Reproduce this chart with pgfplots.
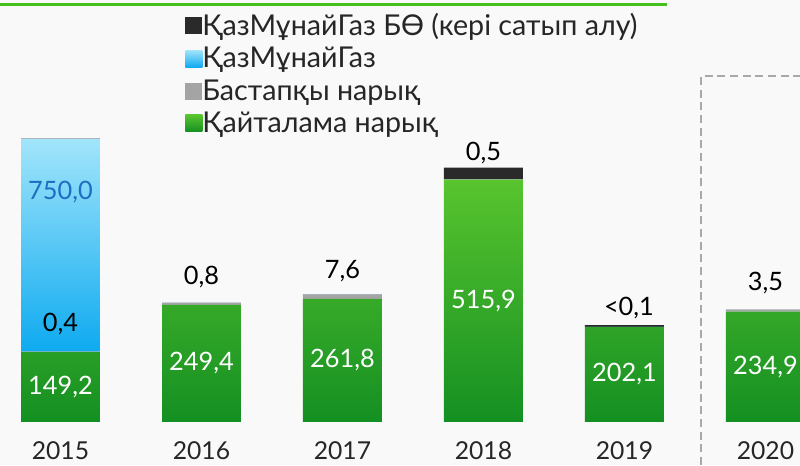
\documentclass[border=0pt]{standalone}
\usepackage{fontspec}
\setmainfont{Lato}
\usepackage{pgfplots}
\usepackage{pgfplotstable}
\pgfplotsset{compat=1.18}
\definecolor{bg}{HTML}{F9F9F9}
\definecolor{gline}{HTML}{45C11B}
\definecolor{gdark}{HTML}{148F22}
\definecolor{gmid}{HTML}{36B417}
\definecolor{glight}{HTML}{58C42E}
\definecolor{btop}{HTML}{A2E5FA}
\definecolor{bbot}{HTML}{0EAAF0}
\definecolor{blab}{HTML}{1A6FC2}
\definecolor{dashgray}{HTML}{A9A9A9}
\definecolor{sgray}{HTML}{A4A4A4}
\definecolor{sblack}{HTML}{2A2A2A}

% Visual bar heights (px/0.47); labels carry the printed values
% (0.1 stands for an empty segment)
\pgfplotstableread{
x y lab
0 149.2 149,2
1 249.4 249,4
2 261.8 261,8
3 515.9 515,9
4 202.1 202,1
5 234.9 234,9
}\tgreen
\pgfplotstableread{
x y lab dy
0 0.4 {} 0
1 4 0,8 27
2 10 7,6 25
3 0.1 {} 0
4 0.1 {} 0
5 4 3,5 28
}\tgray
\pgfplotstableread{
x y lab
0 453 750,0
1 0.1 {}
2 0.1 {}
3 0.1 {}
4 0.1 {}
5 0.1 {}
}\tblue
\pgfplotstableread{
x y lab dx dy
0 0.1 {} 0 0
1 0.1 {} 0 0
2 0.1 {} 0 0
3 25 0,5 0 21
4 4 <0,1 4.5 18
5 0.1 {} 0 0
}\tblack

\begin{document}
\begin{tikzpicture}
\useasboundingbox (0,0) rectangle (600pt,348.75pt);
\fill[bg] (0,0) rectangle (600pt,348.75pt);
\draw[gline, line width=2.25pt] (0,345.4pt) -- (500.25pt,345.4pt);
\begin{axis}[
  at={(0,0)}, anchor=south west,
  scale only axis, width=600pt, height=348.75pt,
  xmin=-0.429, xmax=5.245, ymin=-91.5, ymax=897.9,
  clip=false,
  axis line style={draw=none},
  major tick length=0pt,
  ytick=\empty,
  xtick={0,1,2,3,4,5},
  xticklabels={2015,2016,2017,2018,2019,2020},
  xticklabel style={anchor=center, yshift=10.5pt, font=\fontsize{18.5}{20}\selectfont, text=black!85},
  ybar stacked, bar width=0.56,
  point meta=explicit symbolic,
  nodes near coords={\pgfplotspointmeta},
  every node near coord/.append style={font=\fontsize{19}{21}\selectfont, anchor=center, inner sep=0pt},
  reverse legend,
  legend style={at={(0.23125,0.972)}, anchor=north west,
    draw=none, fill=none, inner sep=0pt, row sep=7.4pt,
    font=\fontsize{21.5}{23}\selectfont, text=black!85,
    nodes={inner sep=0pt},
    /tikz/every even column/.append style={column sep=11pt}},
  legend cell align=left,
  legend image code/.code={\path[#1, draw=none] (0pt,-6.4pt) rectangle (12.75pt,6.4pt);},
]
\addplot[draw=none, bottom color=gdark, middle color=gmid, top color=glight,
  every node near coord/.append style={text=white}]
  table[x=x, y=y, meta=lab] {\tgreen};
\addlegendentry{Қайталама нарық}
\addplot[draw=none, fill=sgray,
  visualization depends on={\thisrow{dy} \as \labdy},
  every node near coord/.append style={text=black, yshift={\labdy*0.75pt}}]
  table[x=x, y=y, meta=lab] {\tgray};
\addlegendentry{Бастапқы нарық}
\addplot[draw=none, top color=btop, bottom color=bbot,
  every node near coord/.append style={text=blab, yshift=40pt}]
  table[x=x, y=y, meta=lab] {\tblue};
\addlegendentry{ҚазМұнайГаз}
\addplot[draw=none, fill=sblack,
  visualization depends on={\thisrow{dx} \as \labdx},
  visualization depends on={\thisrow{dy} \as \labdyb},
  every node near coord/.append style={text=black, yshift={\labdyb*0.75pt}, xshift={\labdx*0.75pt}}]
  table[x=x, y=y, meta=lab] {\tblack};
\addlegendentry{ҚазМұнайГаз БӨ (кері сатып алу)}
\coordinate (lab04) at (axis cs:0,208);
\draw[dashgray, line width=1.5pt, dash pattern=on 6pt off 3.5pt]
  (axis cs:4.543,-91.5) |- (axis cs:5.245,736);
\end{axis}
\node[font=\fontsize{19}{21}\selectfont, text=black, inner sep=0pt] at (lab04) {0,4};
\end{tikzpicture}
\end{document}
